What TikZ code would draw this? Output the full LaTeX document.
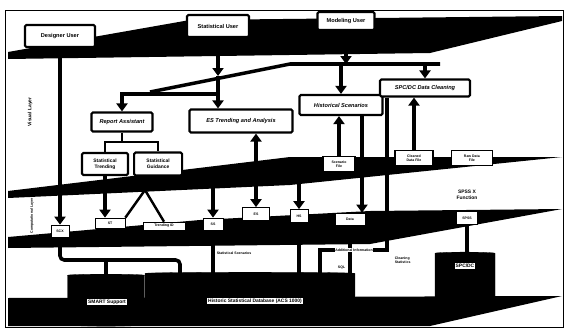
\documentclass[tikz,border=0pt]{standalone}
\usepackage{fontspec}
\setmainfont{Liberation Sans}
\usetikzlibrary{arrows.meta,positioning,shapes.geometric,calc,backgrounds}

\begin{document}
\begin{tikzpicture}[
      x=0.05cm, y=-0.05cm,
      userbox/.style={
        draw, line width=3pt, rounded corners=2pt, fill=white,
        align=center, inner sep=1pt, font=\footnotesize\bfseries
      },
      modbox/.style={userbox, font=\footnotesize\bfseries\itshape},
      filebox/.style={
        draw, line width=2pt, fill=white, align=center,
        inner sep=1pt, font=\tiny\bfseries
      },
      tool/.style={draw, line width=1pt, fill=white, inner sep=1pt, font=\tiny\bfseries},
      plane/.style={fill=black},
      arrow/.style={-{Triangle[length=4mm,width=5.5mm]}, line width=5.5pt},
      twoway/.style={{Triangle[length=4mm,width=5.5mm]}-{Triangle[length=4mm,width=5.5mm]}, line width=5.5pt},
      link/.style={line width=5pt},
      thinlink/.style={line width=3.5pt},
      store/.style={cylinder, shape border rotate=90, aspect=0.5, fill=black, draw=black},
      storelabel/.style={fill=white, inner sep=1.5pt, font=\scriptsize\bfseries},
      layername/.style={rotate=90, font=\scriptsize\bfseries},
      note/.style={font=\tiny\bfseries, inner sep=1pt}
    ]
    \useasboundingbox (0,0) rectangle (566,331);
    \draw[line width=1pt] (5,10) rectangle (563,327);

    \fill[plane] (8,52) -- (190,20) -- (562,16) -- (562,21) -- (430,53) -- (8,59) -- cycle;
    \fill[plane] (8,191) -- (290,157) -- (562,157) -- (290,185) -- (8,198) -- cycle;
    \fill[plane] (8,237) -- (200,220) -- (370,211) -- (562,209) -- (370,244) -- (8,248) -- cycle;
    \fill[plane] (8,298) -- (562,296) -- (430,326) -- (8,326) -- cycle;

    \coordinate (e1) at (150,92);
    \coordinate (e2) at (290,64);
    \coordinate (e3) at (440,64);
    \draw[line width=5pt] (e1) -- (e2) -- (e3);

    \node[layername] (vis) at (30,112) {Visual Layer};
    \node[layername, font=\tiny\bfseries] (comp) at (32,216) {Computational Layer};

    \node[userbox, minimum width=3.5cm, minimum height=1.1cm] (du) at (60,36) {Designer User};
    \node[userbox, minimum width=3.1cm, minimum height=1.1cm] (su) at (218,26) {Statistical User};
    \node[userbox, minimum width=2.85cm, minimum height=0.9cm] (mu) at (346,21) {Modeling User};

    \node[modbox, minimum width=3.05cm, minimum height=0.95cm] (ra) at (122,122) {Report Assistant};
    \node[modbox, minimum width=5.15cm, minimum height=1.15cm] (es) at (241,121) {ES Trending and Analysis};
    \node[modbox, minimum width=4.15cm, minimum height=1cm] (hs) at (341,105) {Historical Scenarios};
    \node[modbox, minimum width=4.5cm, minimum height=0.85cm] (spc) at (425,88) {SPC/DC Data Cleaning};
    \node[userbox, font=\scriptsize\bfseries, minimum width=2.3cm, minimum height=1.1cm] (st) at (105,164) {Statistical\\Trending};
    \node[userbox, font=\scriptsize\bfseries, minimum width=2.4cm, minimum height=1.15cm, right=2mm of st] (sg) {Statistical\\Guidance};

    \node[filebox, minimum width=1.6cm, minimum height=0.75cm] (sf) at (339,164) {Scenario\\File};
    \node[filebox, minimum width=1.9cm, minimum height=0.75cm] (cdf) at (414,158) {Cleaned\\Data File};
    \node[filebox, minimum width=2.05cm, minimum height=0.75cm, right=0.85cm of cdf] (rf) {Raw Data\\File};

    \node[tool, minimum width=0.9cm, minimum height=0.6cm] (scx) at (60,231) {SCX};
    \node[tool, minimum width=1.5cm, minimum height=0.5cm] (stx) at (110,223) {ST};
    \node[tool, minimum width=2.1cm, minimum height=0.4cm] (tid) at (164,226) {Trending ID};
    \node[tool, minimum width=1cm, minimum height=0.6cm] (ssx) at (213,224) {SS};
    \node[tool, minimum width=1.35cm, minimum height=0.65cm] (esx) at (256,214) {ES};
    \node[tool, minimum width=0.9cm, minimum height=0.65cm] (hsx) at (299,216) {HS};
    \node[tool, minimum width=1.5cm, minimum height=0.6cm] (data) at (350,219) {Data};
    \node[tool, minimum width=1.05cm, minimum height=0.65cm] (spss) at (467,218) {SPSS};
    \node[align=center, font=\scriptsize\bfseries] (spsslbl) at (467,195) {SPSS X\\Function};

    \node[store, minimum width=3.85cm, minimum height=2.6cm] (smart) at (106,301) {};
    \node[store, minimum width=10.5cm, minimum height=2.6cm] (db) at (250,299) {};
    \node[store, minimum width=3cm, minimum height=2.8cm] (irc) at (465,281) {};
    \node[storelabel] (smartlbl) at (107,302) {SMART Support};
    \node[storelabel] (dblbl) at (255,301) {Historic Statistical Database (ACS 1000)};
    \node[storelabel] (irclbl) at (465,266) {SPC/DC};

    \coordinate (suin) at (218,76);
    \coordinate (bA) at (218,94);
    \coordinate (rj) at (122,142);
    \coordinate (sgj) at (145,190);
    \coordinate (p2a) at (213,185);
    \coordinate (p2b) at (299,175);
    \coordinate (dtop) at ($(data.north)+(12,0)$);
    \coordinate (cl0) at ($(spc.south west)+(8,0)$);
    \coordinate (cl1) at (320,250);
    \coordinate (sj) at (180,260);

    \begin{scope}[on background layer]
    \draw[arrow] (du.south) -- (du.south |- scx.north);
    \draw[arrow] (su.south) -- (suin);
    \draw[arrow] (mu.south) -- (mu.south |- e2);
    \draw[arrow] (suin) -- (suin |- es.north);
    \draw[arrow] (bA) -| (ra.north);
    \draw[arrow] (hs.north |- e2) -- (hs.north);
    \draw[arrow] (spc.north |- e3) -- (spc.north);
    \draw[thinlink] (ra.south) -- (rj);
    \draw[thinlink] (st.north) |- (rj) -| (sg.north);
    \draw[arrow] (sf.north) -- (sf.north |- hs.south);
    \draw[arrow] (cdf.north) -- (cdf.north |- spc.south);
    \draw[twoway] (esx.north) -- (esx.north |- es.south);
    \draw[arrow] (st.south) -- (st.south |- stx.north);
    \draw[thinlink] (sgj) -- (stx.north east);
    \draw[thinlink] (sgj) -- (tid.north);
    \draw[arrow] (p2a) -- (ssx.north);
    \draw[arrow] (p2b) -- (hsx.north);
    \draw[arrow] (dtop |- hs.south) -- (dtop);
    \draw[link] (cl0) |- (cl1) -- (cl1 |- db.center);
    \draw[link] (data.south) -- (data.south |- db.center);
    \draw[link] (hsx.south) -- (hsx.south |- db.center);
    \draw[link] (ssx.south) -- (ssx.south |- db.center);
    \draw[link, rounded corners=6pt] (scx.south) |- (sj) -- (sj |- db.center);
    \draw[link] (smart.center |- sj) -- (smart.center);
    \draw[link] (spss.south) -- (spss.south |- irc.center);
    \end{scope}

    \node[note, anchor=west] (sslbl) at (216,253) {Statistical Scenarios};
    \node[note, fill=white] (addl) at (354,250) {Additional Information};
    \node[note, anchor=east] (sql) at (346,268) {SQL};
    \node[note, align=left, anchor=west] (cls) at (394,260) {Cleaning\\Statistics};
  \end{tikzpicture}
\end{document}
